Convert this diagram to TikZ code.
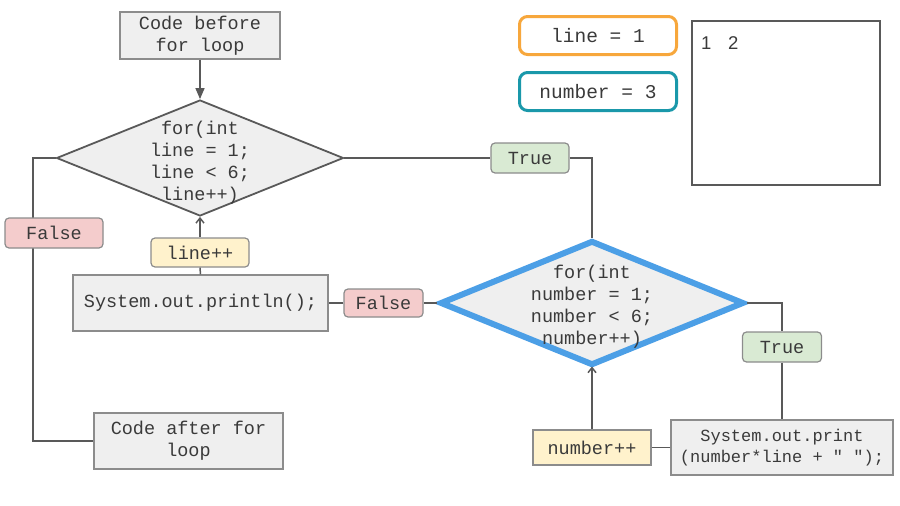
\documentclass[tikz,border=0pt]{standalone}
\usepackage{fontspec}
\setmonofont{Liberation Mono}
\setsansfont{Liberation Sans}
\usetikzlibrary{arrows.meta,shapes.geometric}
\definecolor{boxgray}{HTML}{EFEFEF}
\definecolor{rimgray}{HTML}{8C8C8C}
\definecolor{linegray}{HTML}{595959}
\definecolor{falsered}{HTML}{F4CCCC}
\definecolor{truegreen}{HTML}{D9EAD3}
\definecolor{stepyellow}{HTML}{FFF2CC}
\definecolor{loopblue}{HTML}{4C9FE6}
\definecolor{varorange}{HTML}{F7A73C}
\definecolor{varteal}{HTML}{1A98AA}
\definecolor{inkgray}{HTML}{3A3A3A}
\def\codefont{\ttfamily\fontsize{18.5}{22}\selectfont}

\begin{document}
\begin{tikzpicture}[x=1pt,y=-1pt,
		codebox/.style={draw=rimgray, fill=boxgray, line width=1.2pt, inner sep=0pt, align=center, font=\codefont, text=inkgray},
		tag/.style={codebox, rounded corners=4pt},
		varbox/.style={draw, fill=white, line width=3pt, rounded corners=8pt, inner sep=0pt, minimum width=157pt, minimum height=38pt, font=\ttfamily\fontsize{19.5}{22}\selectfont, text=inkgray},
		decision/.style={diamond, fill=boxgray, inner sep=0pt},
		flow/.style={draw=linegray, line width=1.5pt},
		rise/.style={flow, -{Straight Barb[length=5pt,width=8pt]}}]
		%%%%% START %%%%%
		\useasboundingbox (0,0) rectangle (900,506);
		
		\node[codebox, minimum width=160pt, minimum height=47pt] (before) at (200,35.5) {Code before\\for loop};
		\node[decision, draw=linegray, line width=1.8pt, minimum width=287pt, minimum height=116pt] (loopA) at (200,158) {};
		\node[font=\codefont, text=inkgray, align=center] (loopAtext) at (200,162.5) {for(int\\line = 1;\\line < 6;\\line++)};
		
		\node[decision, draw=loopblue, line width=6pt, minimum width=304pt, minimum height=125pt] (loopB) at (592,303) {};
		\node[font=\codefont, text=inkgray, align=center] (loopBtext) at (592,307) {for(int\\number = 1;\\number < 6;\\number++)};
		
		\node[codebox, minimum width=255pt, minimum height=56pt] (println) at (200.5,303) {System.out.println();};
		\node[codebox, minimum width=189pt, minimum height=56pt] (after) at (188.5,441) {Code after for\\loop};
		\node[codebox, minimum width=222pt, minimum height=55pt, font=\ttfamily\fontsize{17}{21}\selectfont] (print) at (782,447.5) {System.out.print\\(number*line + " ");};
		
		\node[tag, fill=stepyellow, minimum width=98pt, minimum height=29pt] (lineinc) at (200,252.5) {line++};
		\node[tag, fill=stepyellow, minimum width=118pt, minimum height=35pt, rounded corners=0pt] (numinc) at (592,447.5) {number++};
		\node[tag, fill=truegreen, minimum width=78pt, minimum height=30pt] (trueA) at (530,158) {True};
		\node[tag, fill=truegreen, minimum width=79pt, minimum height=30pt] (trueB) at (782,347) {True};
		\node[tag, fill=falsered, minimum width=79pt, minimum height=28pt] (falseB) at (383.5,303) {False};
		
		\coordinate (leftbend) at (33,158);
		\coordinate (leftfoot) at (33,441);
		
		% connectors
		\draw[flow, -{Triangle[length=11pt,width=9pt]}] (before.south) -- (loopA.north);
		\draw[flow] (loopA.west) -- (leftbend) -- (leftfoot) -- (after.west);
		\draw[flow] (loopA.east) -- (trueA.west);
		\draw[flow] (trueA.east) -| (loopB.north);
		\draw[flow] (loopB.east) -| (trueB.north);
		\draw[flow] (trueB.south) -- (print.north);
		\draw[flow] (print.west) -- (numinc.east);
		\draw[rise, shorten >=-2pt] (numinc.north) -- (loopB.south);
		\draw[flow] (loopB.west) -- (falseB.east);
		\draw[flow] (falseB.west) -- (println.east);
		\draw[flow] (println.north) -- (lineinc.south);
		\draw[rise] (lineinc.north) -- (loopA.south);
		
		\node[tag, fill=falsered, minimum width=98pt, minimum height=30pt] (falseA) at (54,233) {False};
		
		% variables and output
		\node[varbox, draw=varorange] (lineval) at (598,35.5) {line = 1};
		\node[varbox, draw=varteal] (numberval) at (598,91.5) {number = 3};
		\node[draw=linegray, line width=2pt, minimum width=188pt, minimum height=164pt, inner sep=0pt] (output) at (786,103) {};
		\node[anchor=north west, inner sep=0pt, font=\sffamily\fontsize{18.5}{22}\selectfont, text=inkgray] (outtext) at ([shift={(10,16)}]output.north west) {1\hspace{0.9em}2};
		%%%%% END %%%%%
\end{tikzpicture}
\end{document}
